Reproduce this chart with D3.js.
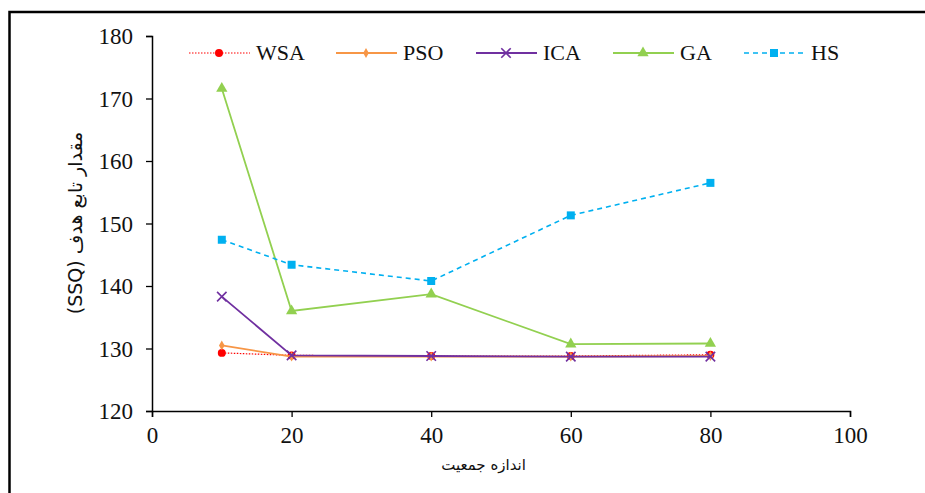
<!DOCTYPE html>
<html>
<head>
<meta charset="utf-8">
<script src="https://cdn.jsdelivr.net/npm/d3@7"></script>
<style>
  html, body { margin: 0; padding: 0; background: #fff; overflow: hidden; }
  svg { display: block; overflow: hidden; }
  .latin { font-family: "Liberation Serif", "Times New Roman", serif; }
  .arabic { font-family: "DejaVu Sans", sans-serif; }
</style>
</head>
<body>
<svg></svg>
<script>
let popSize = [10, 20, 40, 60, 80]

let wsaValues = [129.3, 128.9, 128.8, 128.8, 129.0]
let psoValues = [130.5, 128.7, 128.7, 128.7, 128.8]
let icaValues = [138.3, 128.9, 128.8, 128.7, 128.7]
let gaValues  = [171.6, 136.0, 138.7, 130.7, 130.8]
let hsValues  = [147.4, 143.4, 140.8, 151.3, 156.5]

let seriesNames = ["WSA", "PSO", "ICA", "GA", "HS"]
let xTicks = [0, 20, 40, 60, 80, 100]
let yTicks = [120, 130, 140, 150, 160, 170, 180]

let xTitle = "اندازه جمعیت"
let yTitle = "مقدار تابع هدف (SSQ)"

let allValues = [wsaValues, psoValues, icaValues, gaValues, hsValues]

// styles per series
let styles = [
    {color: "#ff0000", dash: "1.5,1.5", width: 1.2, marker: "circle"},
    {color: "#f79646", dash: null, width: 1.8, marker: "diamond"},
    {color: "#7030a0", dash: null, width: 1.8, marker: "cross"},
    {color: "#92d050", dash: null, width: 1.8, marker: "triangle"},
    {color: "#00b0f0", dash: "5,4", width: 1.6, marker: "square"}
]

var svg = d3.select("svg")
    .attr("width", 925)
    .attr("height", 493)

// outer frame (right/bottom edges fall outside the picture)
svg.append("path")
    .attr("d", "M9.5,493V12H925")
    .attr("fill", "none")
    .attr("stroke", "#000")
    .attr("stroke-width", 2.5)

var margin = {top: 36, left: 152}
var graphWidth = 698
var graphHeight = 375

var g = svg.append("g")
    .attr("transform", `translate(${margin.left}, ${margin.top})`)

let scX = d3.scaleLinear().domain([0, 100]).range([0, graphWidth])
let scY = d3.scaleLinear().domain([120, 180]).range([graphHeight, 0])

let xAxis = d3.axisBottom(scX).tickValues(xTicks).tickSize(6).tickPadding(9)
let yAxis = d3.axisLeft(scY).tickValues(yTicks).tickSize(6).tickPadding(13)

let gx = g.append("g")
    .attr("transform", `translate(0, ${graphHeight})`)
    .call(xAxis)
let gy = g.append("g").call(yAxis)

;[gx, gy].forEach(a => {
    a.attr("font-family", null).attr("font-size", null)
    a.select(".domain").attr("stroke", "#000").attr("stroke-width", 1.5)
    a.selectAll(".tick line").attr("stroke", "#000").attr("stroke-width", 1.3)
    a.selectAll(".tick text")
        .attr("class", "latin")
        .style("font-size", "23px")
        .attr("fill", "#111")
})
gy.selectAll(".tick text").attr("dy", "0.34em")
gx.selectAll(".tick text").attr("dy", "0.75em")

// marker symbols
let symbolFor = {
    circle: d3.symbol().type(d3.symbolCircle).size(50),
    diamond: d3.symbol().type(d3.symbolDiamond).size(28),
    cross: d3.symbol().type(d3.symbolX).size(60),
    triangle: d3.symbol().type(d3.symbolTriangle).size(55),
    square: d3.symbol().type(d3.symbolSquare).size(64)
}

function drawMarker(sel, st) {
    let p = sel.append("path").attr("d", symbolFor[st.marker]())
    if (st.marker == "cross") {
        p.attr("fill", "none").attr("stroke", st.color).attr("stroke-width", 1.6)
    } else {
        p.attr("fill", st.color)
    }
    return p
}

let valueLine = d3.line()
    .x((d, i) => scX(popSize[i]))
    .y(d => scY(d))

allValues.forEach((vals, k) => {
    let st = styles[k]
    g.append("path")
        .datum(vals)
        .attr("fill", "none")
        .attr("stroke", st.color)
        .attr("stroke-width", st.width)
        .attr("stroke-dasharray", st.dash)
        .attr("d", valueLine)

    vals.forEach((v, i) => {
        let m = g.append("g")
            .attr("transform", `translate(${scX(popSize[i])}, ${scY(v)})`)
        drawMarker(m, st)
    })
})

// legend
let legendX = [189, 336, 476, 613, 744]
let legendY = 53
seriesNames.forEach((name, k) => {
    let st = styles[k]
    let lg = svg.append("g").attr("transform", `translate(${legendX[k]}, ${legendY})`)
    lg.append("line")
        .attr("x1", 0).attr("x2", 61)
        .attr("stroke", st.color)
        .attr("stroke-width", st.width)
        .attr("stroke-dasharray", st.dash)
    drawMarker(lg.append("g").attr("transform", "translate(30,0)"), st)
    lg.append("text")
        .attr("class", "latin")
        .attr("x", 67).attr("y", 0).attr("dy", "0.34em")
        .style("font-size", "22px")
        .attr("fill", "#111")
        .text(name)
})

// axis titles
svg.append("text")
    .attr("class", "arabic")
    .attr("x", margin.left + scX(47.5)).attr("y", 470)
    .attr("text-anchor", "middle")
    .attr("direction", "rtl")
    .style("font-size", "15px")
    .attr("fill", "#111")
    .text(xTitle)

svg.append("text")
    .attr("class", "arabic")
    .attr("transform", `translate(82, 223) rotate(-90)`)
    .attr("text-anchor", "middle")
    .attr("direction", "rtl")
    .style("font-size", "19px")
    .attr("fill", "#111")
    .text(yTitle)
</script>
</body>
</html>
